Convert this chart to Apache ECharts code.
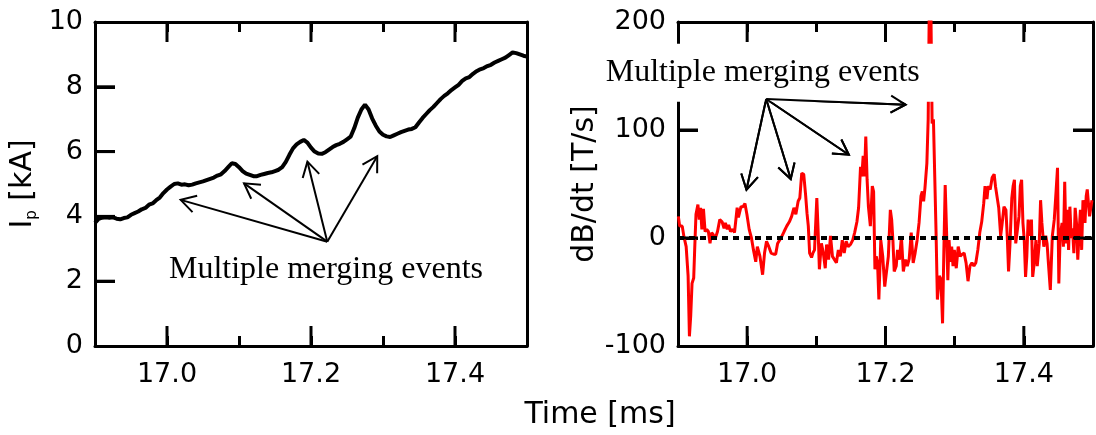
<!DOCTYPE html>
<html><head><meta charset="utf-8">
<script src="https://cdn.jsdelivr.net/npm/echarts@6/dist/echarts.min.js"></script>
<style>
html,body{margin:0;padding:0;background:#fff}
#wrap{position:relative;width:1096px;height:435px}
.panel{position:absolute;left:0;top:0;width:1096px;height:435px}
</style>
</head><body><div id="wrap"><div class="panel" id="pa"></div><div class="panel" id="pb"></div></div>
<script>
// ---------- data ----------
const ipTime = [
16.900,16.905,16.910,16.915,16.920,16.925,16.930,16.935,16.940,16.945,
16.950,16.955,16.960,16.965,16.970,16.975,16.980,16.985,16.990,16.995,
17.000,17.005,17.010,17.015,17.020,17.025,17.030,17.035,17.040,17.045,
17.050,17.055,17.060,17.065,17.070,17.075,17.080,17.085,17.090,17.095,
17.100,17.105,17.110,17.115,17.120,17.125,17.130,17.135,17.140,17.145,
17.150,17.155,17.160,17.165,17.170,17.175,17.180,17.185,17.190,17.195,
17.200,17.205,17.210,17.215,17.220,17.225,17.230,17.235,17.240,17.245,
17.250,17.255,17.260,17.265,17.270,17.275,17.280,17.285,17.290,17.295,
17.300,17.305,17.310,17.315,17.320,17.325,17.330,17.335,17.340,17.345,
17.350,17.355,17.360,17.365,17.370,17.375,17.380,17.385,17.390,17.395,
17.400,17.405,17.410,17.415,17.420,17.425,17.430,17.435,17.440,17.445,
17.450,17.455,17.460,17.465,17.470,17.475,17.480,17.485,17.490,17.495,
17.500];
const ipValue = [
3.80,3.92,3.96,3.97,3.96,3.97,3.93,3.91,3.95,3.97,
4.05,4.10,4.15,4.22,4.26,4.36,4.40,4.50,4.58,4.72,
4.83,4.92,5.00,5.02,4.98,4.99,4.96,4.98,5.02,5.05,
5.08,5.12,5.16,5.20,5.26,5.30,5.40,5.52,5.64,5.62,
5.52,5.40,5.32,5.28,5.24,5.24,5.28,5.31,5.34,5.36,
5.40,5.44,5.52,5.68,5.90,6.10,6.22,6.30,6.36,6.28,
6.12,6.00,5.94,5.93,5.98,6.06,6.14,6.20,6.24,6.30,
6.38,6.46,6.72,7.05,7.30,7.45,7.30,7.02,6.80,6.62,
6.52,6.47,6.45,6.50,6.55,6.60,6.64,6.68,6.70,6.75,
6.90,7.04,7.16,7.28,7.38,7.50,7.62,7.72,7.80,7.90,
7.98,8.06,8.18,8.26,8.30,8.40,8.48,8.54,8.58,8.64,
8.68,8.75,8.80,8.85,8.90,8.98,9.06,9.04,9.00,8.96,
8.93];

const dbTime = [
16.9005,16.9024,16.9061,16.9085,16.9118,16.9146,16.9165,16.9184,16.9203,16.9227,
16.9241,16.9260,16.9288,16.9307,16.9326,16.9345,16.9368,16.9392,16.9415,16.9439,
16.9463,16.9486,16.9510,16.9534,16.9571,16.9604,16.9637,16.9666,16.9685,16.9713,
16.9732,16.9760,16.9793,16.9817,16.9855,16.9873,16.9911,16.9940,16.9968,16.9996,
17.0029,17.0062,17.0091,17.0124,17.0147,17.0185,17.0223,17.0251,17.0280,17.0313,
17.0346,17.0383,17.0412,17.0440,17.0468,17.0501,17.0534,17.0572,17.0610,17.0643,
17.0676,17.0704,17.0737,17.0761,17.0789,17.0818,17.0846,17.0865,17.0884,17.0903,
17.0931,17.0950,17.0974,17.1007,17.1025,17.1044,17.1073,17.1101,17.1129,17.1148,
17.1177,17.1205,17.1233,17.1261,17.1290,17.1318,17.1347,17.1375,17.1403,17.1431,
17.1460,17.1493,17.1526,17.1554,17.1587,17.1611,17.1639,17.1658,17.1677,17.1696,
17.1715,17.1734,17.1753,17.1781,17.1809,17.1828,17.1847,17.1866,17.1885,17.1904,
17.1932,17.1960,17.1989,17.2013,17.2041,17.2070,17.2089,17.2107,17.2126,17.2155,
17.2174,17.2202,17.2230,17.2258,17.2287,17.2315,17.2343,17.2372,17.2400,17.2428,
17.2457,17.2485,17.2513,17.2532,17.2551,17.2570,17.2598,17.2617,17.2636,17.2655,
17.2674,17.2693,17.2712,17.2731,17.2750,17.2778,17.2801,17.2825,17.2844,17.2863,
17.2882,17.2901,17.2919,17.2938,17.2957,17.2976,17.2995,17.3023,17.3051,17.3080,
17.3108,17.3137,17.3165,17.3193,17.3221,17.3250,17.3278,17.3306,17.3335,17.3363,
17.3391,17.3420,17.3439,17.3467,17.3486,17.3514,17.3542,17.3571,17.3590,17.3618,
17.3637,17.3665,17.3684,17.3713,17.3741,17.3760,17.3779,17.3798,17.3826,17.3845,
17.3864,17.3883,17.3902,17.3930,17.3949,17.3968,17.3987,17.4006,17.4025,17.4043,
17.4062,17.4091,17.4110,17.4128,17.4147,17.4175,17.4194,17.4223,17.4242,17.4261,
17.4289,17.4317,17.4336,17.4355,17.4383,17.4412,17.4440,17.4468,17.4487,17.4506,
17.4525,17.4553,17.4572,17.4591,17.4610,17.4629,17.4647,17.4666,17.4685,17.4704,
17.4723,17.4742,17.4761,17.4780,17.4799,17.4818,17.4836,17.4855,17.4884,17.4902,
17.4917,17.4950,17.4985];
const dbValue = [
20,11,11,1.5,-8,-35,-91,-72,-42,-37,
-11,22,31,17,28,8,27,6,8,6,
-5,5,3,-1.5,6,17,15,9,14,8,
12,6,8,5,28,19,29,29,32,22,
8,0,-11,-22,-8,-17,-34,-14,-3,-8,
-14,-15,-15,-5,-2,1.5,6,11,15,20,
28,22,34,37,60,59,39,23,11,-14,
-18,-14,-11,37,8,-29,-5,-14,-28,-6,
-20,2,-17,-18,-23,-11,-17,-2,-14,-3,
-8,-6,-2,5,15,28,66,57,76,57,
94,54,29,11,48,43,-29,-17,-23,-57,
-2,-17,-45,-46,-17,26,17,-2,-31,-26,
-11,-20,1.5,-31,-20,-26,-19,5,-23,-14,
-2,14,39,43,34,46,69,110,235,220,
106,110,57,5,-57,-35,-38,-79,-11,49,
8,-39,-2,-22,-8,-26,-11,-28,-8,-17,
-15,-14,-23,-40,-26,-23,-26,-23,-11,5,
15,32,48,36,48,45,56,59,48,36,
28,2,12,29,26,2,-31,-8,37,48,
54,-5,5,20,48,54,14,-2,-36,-17,
17,2,17,-36,-25,-2,-26,-5,35,14,
-8,2,-5,-23,-48,2,17,45,65,-42,
2,14,-8,52,-5,26,-11,29,0,9,
-14,28,14,-20,5,26,-11,35,14,39,
45,20,35];

const xRange = [16.9, 17.5];
const xMinorStep = 0.1;
const xMajorTicks = [17.0, 17.2, 17.4];   // labelled, long ticks
const ipRange = [0, 10], ipStep = 2;
const ipTickValues = [2, 4, 6, 8];
const dbRange = [-100, 200], dbStep = 100;
const dbTickValues = [0, 100];

const noteText = 'Multiple merging events';
// arrows: [fromTime, fromValue, toTime, toValue]
const ipArrows = [
  [17.2226, 3.22, 17.019, 4.51],
  [17.2226, 3.22, 17.107, 5.02],
  [17.2226, 3.22, 17.195, 5.69],
  [17.2226, 3.22, 17.292, 5.86]
];
const ipNote = [17.2208, 2.35];
const dbArrows = [
  [17.0275, 128.7, 16.999, 44.7],
  [17.0275, 128.7, 17.063, 54.6],
  [17.0275, 128.7, 17.147, 77.1],
  [17.0275, 128.7, 17.229, 123.4]
];
const dbNote = [17.0225, 153];

// ---------- style ----------
const SANS = 'DejaVu Sans';
const SERIF = 'Liberation Serif';
const BLACK = '#000';
const MAJOR_PX = 20, MINOR_PX = 10;

function lineOn() { return {show: true, onZero: false, lineStyle: {color: BLACK, width: 3}}; }
function ticksIn(len) { return {show: true, inside: true, length: len, lineStyle: {color: BLACK, width: 3}}; }

function majorLabel(v) {
  const r = Math.round(v * 10) / 10;
  return xMajorTicks.some(m => Math.abs(m - r) < 1e-6) ? r.toFixed(1) : '';
}

// long time ticks + value ticks, drawn through the axis scale
function tickRender(len, rightSide) {
  return function (params, api) {
    const cs = params.coordSys;
    const kind = api.value(2);
    const p = api.coord([api.value(0), api.value(1)]);
    const st = {stroke: BLACK, lineWidth: 3};
    const kids = [];
    if (kind === 0) {           // time tick: bottom and top
      const bot = cs.y + cs.height, top = cs.y;
      kids.push({type: 'line', shape: {x1: p[0], y1: bot, x2: p[0], y2: bot - len}, style: st});
      kids.push({type: 'line', shape: {x1: p[0], y1: top, x2: p[0], y2: top + len}, style: st});
    } else {                    // value tick: left (and right)
      const l = cs.x, r = cs.x + cs.width;
      kids.push({type: 'line', shape: {x1: l, y1: p[1], x2: l + len, y2: p[1]}, style: st});
      if (rightSide) kids.push({type: 'line', shape: {x1: r, y1: p[1], x2: r - len, y2: p[1]}, style: st});
    }
    return {type: 'group', children: kids};
  };
}

function arrowRender(params, api) {
  const p0 = api.coord([api.value(0), api.value(1)]);
  const p1 = api.coord([api.value(2), api.value(3)]);
  const ang = Math.atan2(p1[1] - p0[1], p1[0] - p0[0]);
  const L = 17, a = Math.PI / 6;
  const h1 = [p1[0] - L * Math.cos(ang - a), p1[1] - L * Math.sin(ang - a)];
  const h2 = [p1[0] - L * Math.cos(ang + a), p1[1] - L * Math.sin(ang + a)];
  return {type: 'group', children: [
    {type: 'line', shape: {x1: p0[0], y1: p0[1], x2: p1[0], y2: p1[1]}, style: {stroke: BLACK, lineWidth: 2}},
    {type: 'polyline', shape: {points: [h1, p1, h2]}, style: {stroke: BLACK, lineWidth: 2, fill: null}}
  ]};
}

function noteRender(withBox) {
  return function (params, api) {
    const p = api.coord([api.value(0), api.value(1)]);
    const style = {text: noteText, x: p[0], y: p[1], align: 'center', verticalAlign: 'middle',
      font: '32px "' + SERIF + '"', fill: BLACK};
    if (withBox) {
      style.backgroundColor = '#fff';
      style.padding = [14, 22, 12, 22];
    }
    return {type: 'text', style: style};
  };
}

// one panel = one chart instance with a single grid
function panelOption(cfg) {
  const xBase = () => ({type: 'value', min: xRange[0], max: xRange[1], interval: xMinorStep,
    splitLine: {show: false}, axisLine: lineOn(), axisTick: ticksIn(MINOR_PX)});
  const yBase = () => ({type: 'value', min: cfg.yRange[0], max: cfg.yRange[1], interval: cfg.yStep,
    splitLine: {show: false}, axisLine: lineOn()});
  const nameStyle = {color: BLACK, fontFamily: SANS, fontSize: 30};
  if (cfg.rich) nameStyle.rich = cfg.rich;
  const tickData = xMajorTicks.map(t => [t, cfg.yRange[0], 0])
    .concat(cfg.yTicks.map(v => [xRange[0], v, 1]));
  const series = [
    {type: 'line', data: cfg.time.map((t, i) => [t, cfg.values[i]]), symbol: 'none',
      lineStyle: {color: cfg.color, width: cfg.width}, z: 3,
      markLine: cfg.zeroLine ? {silent: true, symbol: ['none', 'none'], label: {show: false},
        lineStyle: {color: BLACK, width: 4, type: [6, 5]}, data: [{yAxis: 0}]} : undefined},
    {type: 'custom', data: tickData, renderItem: tickRender(MAJOR_PX, cfg.rightTicks), z: 20},
    {type: 'custom', data: cfg.arrows, renderItem: arrowRender, z: 5},
    {type: 'custom', data: [cfg.note], renderItem: noteRender(cfg.noteBox), z: cfg.noteBox ? 10 : 5}
  ];
  if (cfg.noteBox) {
    // arrows above the white label box
    series.push({type: 'custom', data: cfg.arrows, renderItem: arrowRender, z: 11});
  }
  const opt = {
    animation: false,
    grid: {left: cfg.left, top: 22, width: cfg.width_px, height: 324},
    xAxis: [
      Object.assign(xBase(), {position: 'bottom',
        axisLabel: {show: true, formatter: majorLabel, margin: 15, color: BLACK, fontSize: 27, fontFamily: SANS,
          showMinLabel: true, showMaxLabel: true}}),
      Object.assign(xBase(), {position: 'top', axisLabel: {show: false}})
    ],
    yAxis: [
      Object.assign(yBase(), {position: 'left', axisTick: ticksIn(MAJOR_PX),
        axisLabel: {color: BLACK, fontSize: 27, fontFamily: SANS, margin: 12},
        name: cfg.name, nameLocation: 'middle', nameGap: cfg.nameGap, nameRotate: 90, nameTextStyle: nameStyle}),
      Object.assign(yBase(), {position: 'right', axisTick: cfg.rightTicks ? ticksIn(MAJOR_PX) : {show: false},
        axisLabel: {show: false}})
    ],
    series: series.map(s => Object.assign({xAxisIndex: 0, yAxisIndex: 0}, s))
  };
  if (cfg.extraGraphic) opt.graphic = cfg.extraGraphic;
  return opt;
}

const optA = panelOption({
  left: 95, width_px: 432, yRange: ipRange, yStep: ipStep, yTicks: ipTickValues, rightTicks: false,
  name: '{n|I}{s|p}{n| [kA]}', nameGap: 55,
  rich: {n: {fontFamily: SANS, fontSize: 30, lineHeight: 34, color: BLACK},
         s: {fontFamily: SANS, fontSize: 15, color: BLACK, verticalAlign: 'bottom'}},
  time: ipTime, values: ipValue, color: BLACK, width: 4, zeroLine: false,
  arrows: ipArrows, note: ipNote, noteBox: false,
  extraGraphic: [{type: 'text', x: 600, y: 415, style: {text: 'Time [ms]', align: 'center', verticalAlign: 'middle',
    font: '30px "' + SANS + '"', fill: BLACK}}]
});
const optB = panelOption({
  left: 678, width_px: 424, yRange: dbRange, yStep: dbStep, yTicks: dbTickValues, rightTicks: true,
  name: 'dB/dt [T/s]', nameGap: 78, rich: null,
  time: dbTime, values: dbValue, color: '#ff0000', width: 3, zeroLine: true,
  arrows: dbArrows, note: dbNote, noteBox: true
});

echarts.init(document.getElementById('pa')).setOption(optA);
echarts.init(document.getElementById('pb')).setOption(optB);
</script>
</body></html>
